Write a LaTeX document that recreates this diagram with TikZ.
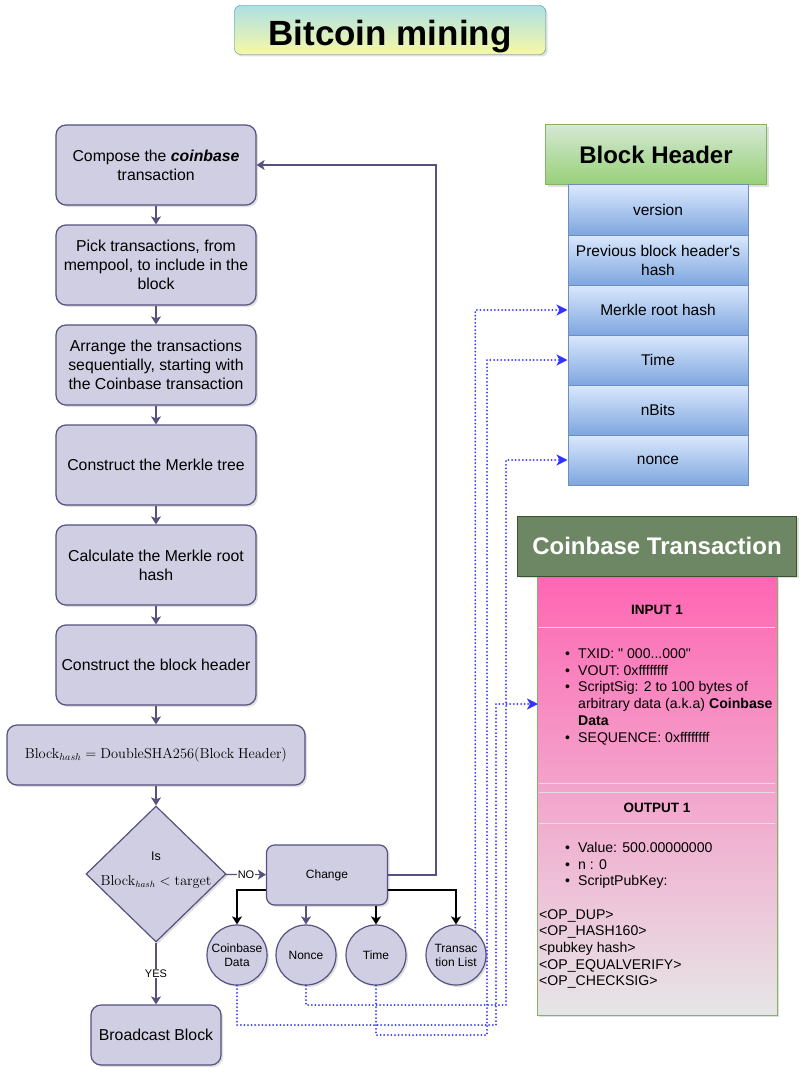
\documentclass[tikz,border=0pt]{standalone}
\usepackage[no-math]{fontspec}
\setmainfont{Liberation Sans}
\usetikzlibrary{arrows.meta,shapes.geometric,shadows}

\definecolor{stepfill}{HTML}{D0CEE2}
\definecolor{stepline}{HTML}{56517E}
\definecolor{titletop}{HTML}{AEE0E4}
\definecolor{titlebot}{HTML}{F8F8A6}
\definecolor{titleline}{HTML}{3E8C90}
\definecolor{hdrtop}{HTML}{D5E8D4}
\definecolor{hdrbot}{HTML}{97D077}
\definecolor{hdrline}{HTML}{82B366}
\definecolor{fieldtop}{HTML}{DAE8FC}
\definecolor{fieldbot}{HTML}{7EA6E0}
\definecolor{fieldline}{HTML}{6C8EBF}
\definecolor{cbgreen}{HTML}{6D8764}
\definecolor{cbgreenline}{HTML}{3A5431}
\definecolor{cbtop}{HTML}{FF66B3}
\definecolor{cbbot}{HTML}{E6E6E6}
\definecolor{dotblue}{HTML}{3333FF}

\tikzset{
  shade/.style={drop shadow={opacity=0.25,shadow xshift=2pt,shadow yshift=-2pt}},
  stepbox/.style={draw=stepline, fill=stepfill, line width=1.2pt, rounded corners=10pt,
    minimum width=200pt, minimum height=80pt, align=center, inner sep=2pt,
    font=\fontsize{15.8}{19}\selectfont, shade},
  decision/.style={diamond, draw=stepline, fill=stepfill, line width=1.2pt,
    minimum width=140pt, minimum height=136pt, inner sep=0pt, shade},
  choice/.style={circle, draw=stepline, fill=stepfill, line width=1.2pt,
    minimum size=60pt, inner sep=0pt, align=center, font=\fontsize{12}{14}\selectfont, shade},
  flow/.style={draw=stepline, line width=1.2pt, -{Stealth[length=8pt,width=10pt,inset=2pt]}},
  blackflow/.style={draw=black, line width=1.4pt, -{Stealth[length=8pt,width=10pt,inset=2pt]}},
  dotflow/.style={draw=dotblue, line width=2pt, dash pattern=on 0pt off 3.6pt, line cap=round,
    -{Stealth[length=11pt,width=11pt,inset=3pt,line cap=butt]}},
  answer/.style={fill=white, inner sep=1pt, font=\fontsize{11}{12}\selectfont},
  titlebox/.style={draw=titleline, top color=titletop, bottom color=titlebot, rounded corners=6pt,
    minimum width=311pt, minimum height=49pt, text height=32pt, text depth=0pt,
    font=\fontsize{35}{40}\selectfont\bfseries, shade},
  hdrtitle/.style={draw=hdrline, line width=1pt, top color=hdrtop, bottom color=hdrbot,
    minimum width=221pt, minimum height=60pt, font=\fontsize{24}{28}\selectfont\bfseries, shade},
  field/.style={draw=fieldline, line width=1pt, top color=fieldtop, bottom color=fieldbot,
    minimum width=180pt, minimum height=50pt, align=center, font=\fontsize{15.5}{19}\selectfont},
  cbtitle/.style={draw=cbgreenline, line width=1pt, fill=cbgreen, text=white,
    minimum width=279pt, minimum height=60pt, font=\fontsize{24}{28}\selectfont\bfseries, shade},
  cbbody/.style={draw=hdrline, line width=1pt, top color=cbtop, bottom color=cbbot,
    minimum width=240pt, minimum height=439pt, shade},
  cbtext/.style={align=left, inner sep=0pt, anchor=north west, font=\fontsize{14.1}{16.7}\selectfont},
  divider/.style={draw=white!88!black, line width=1pt}
}

\begin{document}
\begin{tikzpicture}[x=1pt,y=-1pt]
\useasboundingbox (0,0) rectangle (809,1078);

% title
\node[titlebox] (title) at (390,30) {Bitcoin mining};

% mining loop
\node[stepbox] (compose) at (156,165) {Compose the \textbf{\textit{coinbase}}\\transaction};
\node[stepbox] (pick) at (156,265) {Pick transactions, from\\mempool, to include in the\\block};
\node[stepbox] (arrange) at (156,365) {Arrange the transactions\\sequentially, starting with\\the Coinbase transaction};
\node[stepbox] (tree) at (156,465) {Construct the Merkle tree};
\node[stepbox] (rootcalc) at (156,565) {Calculate the Merkle root\\hash};
\node[stepbox] (header) at (156,665) {Construct the block header};
\node[stepbox, minimum width=298pt, minimum height=60pt, font=\fontsize{14}{16}\selectfont] (hashit) at (156,755)
  {$\mathrm{Block}_{hash}=\mathrm{DoubleSHA256}(\mathrm{Block\ Header})$};
\node[decision] (check) at (156,874) {};
\node[align=center, font=\fontsize{12.5}{14}\selectfont] (checktext) at (156,870)
  {Is\\[11pt]{\fontsize{13.5}{15}\selectfont$\mathrm{Block}_{hash}<\mathrm{target}$}};
\node[stepbox, minimum width=130pt, minimum height=60pt] (broadcast) at (156,1035) {Broadcast Block};
\node[stepbox, minimum width=121pt, minimum height=60pt, rounded corners=8pt,
  font=\fontsize{12}{14}\selectfont] (change) at (327,875) {Change};

\node[choice] (cbdata) at (237,955) {Coinbase\\Data};
\node[choice] (noncec) at (306,955) {Nonce};
\node[choice] (timec) at (376,955) {Time};
\node[choice] (txlist) at (456,955) {Transac\\tion List};

\draw[flow] (compose) -- (pick);
\draw[flow] (pick) -- (arrange);
\draw[flow] (arrange) -- (tree);
\draw[flow] (tree) -- (rootcalc);
\draw[flow] (rootcalc) -- (header);
\draw[flow] (header) -- (hashit);
\draw[flow] (hashit) -- (check);
\draw[flow] (check) -- node[answer] {YES} (broadcast);
\draw[flow] (check) -- node[answer] {NO} (change);
\coordinate (loopturn) at (436,875);
\draw[flow] (change.east) -- (loopturn) |- (compose.east);

\draw[blackflow] ([yshift=-15pt]change.west) -| (cbdata.north);
\draw[flow] (noncec.north |- change.south) -- (noncec.north);
\draw[blackflow] (timec.north |- change.south) -- (timec.north);
\draw[blackflow] ([yshift=-15pt]change.east) -| (txlist.north);

% block header
\node[hdrtitle] (hdr) at (656,155) {Block Header};
\node[field] (version) at (658,210) {version};
\node[field] (prevhash) at (658,260) {Previous block header\textquotesingle s\\hash};
\node[field] (rootrow) at (658,310) {Merkle root hash};
\node[field] (timerow) at (658,360) {Time};
\node[field] (nbits) at (658,410) {nBits};
\node[field] (noncerow) at (658,460) {nonce};

% coinbase transaction
\node[cbbody] (cbbody) at (657,795.5) {};
\node[cbtitle] (cbhead) at (657,546) {Coinbase Transaction};
\node[font=\fontsize{13.5}{16}\selectfont\bfseries] (inhead) at (657,610) {INPUT 1};
\draw[divider] (539,627) -- (775,627);
\node[cbtext] (inlist) at (565,648.5) {%
  \makebox[13pt][l]{\textbullet}TXID: \textquotedbl\ 000...000\textquotedbl\\
  \makebox[13pt][l]{\textbullet}VOUT: 0xffffffff\\
  \makebox[13pt][l]{\textbullet}ScriptSig: 2 to 100 bytes of\\
  \hspace*{13pt}arbitrary data (a.k.a) \textbf{Coinbase}\\
  \hspace*{13pt}\textbf{Data}\\
  \makebox[13pt][l]{\textbullet}SEQUENCE: 0xffffffff};
\draw[divider] (539,783) -- (775,783);
\draw[divider] (539,792) -- (775,792);
\node[font=\fontsize{13.5}{16}\selectfont\bfseries] (outhead) at (657,808) {OUTPUT 1};
\draw[divider] (539,823) -- (775,823);
\node[cbtext] (outlist) at (565,842) {%
  \makebox[13pt][l]{\textbullet}Value: 500.00000000\\
  \makebox[13pt][l]{\textbullet}n : 0\\
  \makebox[13pt][l]{\textbullet}ScriptPubKey:};
\node[cbtext] (script) at (539,909) {%
  <OP\_DUP>\\
  <OP\_HASH160>\\
  <pubkey hash>\\
  <OP\_EQUALVERIFY>\\
  <OP\_CHECKSIG>};
\coordinate (scriptsig) at (538,704);

% what changes, and where it goes
\draw[dotflow] (cbdata.south) |- (496,1025) |- (scriptsig);
\draw[dotflow] (noncec.south) |- (506,1005) |- (noncerow.west);
\draw[dotflow] (timec.south) |- (487,1035) |- (timerow.west);
\draw[dotflow] (txlist.51) |- (rootrow.west);
\end{tikzpicture}
\end{document}
